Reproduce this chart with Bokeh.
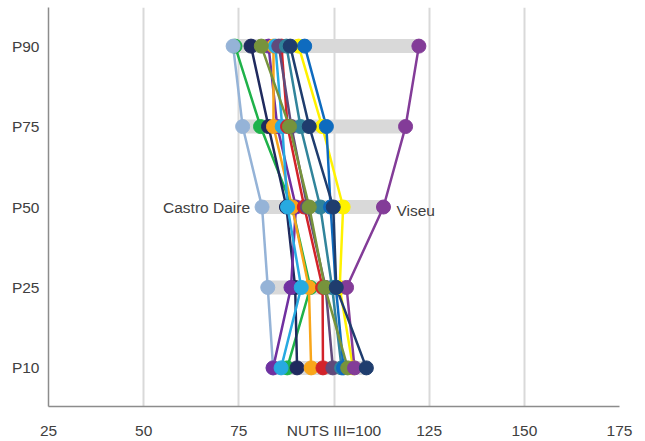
from bokeh.plotting import figure
from bokeh.models import FixedTicker
from bokeh.embed import file_html
from bokeh.resources import INLINE
from bokeh.core.properties import value

# Rows (bottom to top)
rows = ["P10", "P25", "P50", "P75", "P90"]
row_pos = [1, 2, 3, 4, 5]

# Series values per row [P10, P25, P50, P75, P90] (index, NUTS III = 100)
castro_daire = [84.0, 82.6, 81.1, 76.0, 73.5]
viseu = [105.4, 103.3, 113.0, 118.8, 122.3]
purple_s = [84.0, 88.7, 90.0, 85.1, 82.8]
green_s = [87.7, 93.8, 89.0, 80.7, 74.0]
navy_s = [90.3, 89.8, 87.5, 82.8, 78.2]
olive_s = [103.6, 97.6, 93.5, 88.3, 80.9]
orange_s = [94.0, 93.4, 89.0, 84.1, 84.1]
skyblue_s = [86.1, 91.4, 87.8, 86.4, 84.6]
red_s = [97.1, 97.0, 92.2, 87.8, 86.2]
teal_s = [102.0, 99.5, 96.4, 91.2, 87.5]
darknavy_s = [108.5, 100.6, 99.8, 93.5, 88.5]
yellow_s = [105.0, 101.5, 102.4, 96.9, 90.7]
blue_s = [102.5, 100.5, 99.1, 98.0, 92.3]
greypurple_s = [99.7, 97.8, 93.0, 88.8, 85.5]

series = [
    (green_s, "#1fb24a"),
    (castro_daire, "#95b3d7"),
    (navy_s, "#1f2a5e"),
    (purple_s, "#7030a0"),
    (orange_s, "#f9a61a"),
    (skyblue_s, "#27aae1"),
    (red_s, "#d2232a"),
    (greypurple_s, "#604a7b"),
    (teal_s, "#31849b"),
    (yellow_s, "#fff200"),
    (blue_s, "#0e6bbf"),
    (olive_s, "#77933c"),
    (viseu, "#833c98"),
    (darknavy_s, "#1f3d6e"),
]

x_ticks = [25, 50, 75, 100, 125, 150, 175]
x_labels = {25: "25", 50: "50", 75: "75", 100: "NUTS III=100", 125: "125", 150: "150", 175: "175"}

FONT = "Liberation Sans"
TXT = "#404040"

p = figure(frame_width=571, frame_height=399, x_range=(25, 175), y_range=(0.52, 5.48),
           output_backend="svg", toolbar_location=None,
           min_border_left=48, min_border_right=15, min_border_top=7, min_border_bottom=30)
p.outline_line_color = None
p.background_fill_color = "white"

# axes
p.xaxis.ticker = FixedTicker(ticks=x_ticks)
p.xaxis.major_label_overrides = x_labels
p.yaxis.ticker = FixedTicker(ticks=row_pos)
p.yaxis.major_label_overrides = {pos: r for pos, r in zip(row_pos, rows)}
for ax in (p.xaxis, p.yaxis):
    ax.axis_line_color = "#8c8c8c"
    ax.axis_line_width = 1.5
    ax.major_tick_line_color = None
    ax.minor_tick_line_color = None
    ax.major_label_text_font = FONT
    ax.major_label_text_font_size = "15.5px"
    ax.major_label_text_color = TXT
p.xaxis.major_label_standoff = 9
p.yaxis.major_label_standoff = 3

p.xgrid.grid_line_color = "#d9d9d9"
p.xgrid.grid_line_width = 2
p.ygrid.grid_line_color = None

# grey range bands
mins = [min(s[0][i] for s in series) for i in range(5)]
maxs = [max(s[0][i] for s in series) for i in range(5)]
p.segment(x0=mins, x1=maxs, y0=row_pos, y1=row_pos, line_color="#d9d9d9", line_width=14)

# lines
for vals, col in series:
    p.line(vals, row_pos, line_color=col, line_width=2.5)
# markers
for vals, col in series:
    p.scatter(vals, row_pos, size=14, fill_color=col, line_color=col)

# labels
p.text(x=[castro_daire[2]], y=[row_pos[2]], text=["Castro Daire"], text_align="right",
       text_baseline="middle", x_offset=-12, text_font=value(FONT), text_font_size="15.5px",
       text_color=TXT)
p.text(x=[viseu[2]], y=[row_pos[2]], text=["Viseu"], text_align="left",
       text_baseline="middle", x_offset=13, y_offset=3, text_font=value(FONT),
       text_font_size="15.5px", text_color=TXT)

open("out.html", "w").write(file_html(p, INLINE))
